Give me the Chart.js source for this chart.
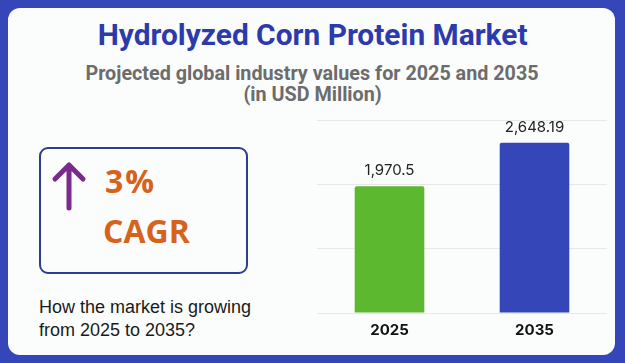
<!DOCTYPE html>
<html>
<head>
<meta charset="utf-8">
<script src="https://cdn.jsdelivr.net/npm/chart.js@4/dist/chart.umd.min.js"></script>
<style>
  body { margin: 0; width: 625px; height: 363px; background: #3446b8; position: relative; overflow: hidden; }
  .panel { position: absolute; left: 8px; top: 8px; width: 607px; height: 347px; background: #fbfdfd; border-radius: 12px; }
  .abs { position: absolute; white-space: nowrap; }
  .titulo { left: 0; width: 625px; top: 21px; text-align: center; font: 700 29px Roboto, sans-serif; line-height: 28px; color: #2d3aab; }
  .titulo span { display: inline-block; transform: scaleX(1.03); }
  .sub span { display: inline-block; transform: scaleX(0.94); }
  .sub { left: 0; width: 625px; top: 63px; text-align: center; font: 700 21px Roboto, sans-serif; line-height: 21px; color: #6c6c6c; }
  .caixa { left: 39px; top: 147px; width: 205px; height: 123px; border: 2px solid #2f3d8f; border-radius: 9px; }
  .num { left: 105px; font: 700 32px "Open Sans", sans-serif; line-height: 32px; color: #d7621c; }
  .pergunta { left: 39px; top: 296px; font: 400 18px "Liberation Sans", Arial, sans-serif; line-height: 23px; color: #1a1a1a; }
  #areaGrafico { position: absolute; left: 317px; top: 100px; width: 290px; height: 247px; }
</style>
</head>
<body>
<div class="panel"></div>
<div class="abs titulo"><span>Hydrolyzed Corn Protein Market</span></div>
<div class="abs sub"><span>Projected global industry values for 2025 and 2035</span><br><span>(in USD Million)</span></div>

<div class="abs caixa"></div>
<svg class="abs" style="left:50px;top:160px" width="40" height="52">
  <path d="M19 48 V5 M5 19 L19 5 L33 19" fill="none" stroke="#7a2a8c" stroke-width="5" stroke-linecap="round" stroke-linejoin="round"/>
</svg>
<div class="abs num" style="top:165px;letter-spacing:2px">3%</div>
<div class="abs num" style="top:215px;left:103px">CAGR</div>
<div class="abs pergunta">How the market is growing<br>from 2025 to 2035?</div>

<div id="areaGrafico"><canvas id="graficoMercado"></canvas></div>

<script>
// dados do gráfico
const anos = ['2025', '2035'];
const valores = [1970.5, 2648.19];
const cores = ['#5cb82f', '#3446b8'];
const ticksY = [0, 1000, 2000, 3000];

// rótulos em cima das barras (sem plugin externo)
const rotulosBarras = {
    id: 'rotulosBarras',
    afterDatasetsDraw(chart) {
        const ctx = chart.ctx;
        const meta = chart.getDatasetMeta(0);
        ctx.save();
        ctx.font = '400 15px Inter, sans-serif';
        ctx.fillStyle = '#222';
        ctx.textAlign = 'center';
        ctx.textBaseline = 'bottom';
        meta.data.forEach((barra, i) => {
            ctx.fillText(valores[i].toLocaleString('en-US'), barra.x, barra.y - 8);
        });
        ctx.restore();
    }
};

new Chart(document.getElementById('graficoMercado'), {
    type: 'bar',
    data: {
        labels: anos,
        datasets: [{
            data: valores,
            backgroundColor: cores,
            borderRadius: 2,
            categoryPercentage: 1,
            barPercentage: 0.48
        }]
    },
    options: {
        responsive: true,
        maintainAspectRatio: false,
        animation: false,
        layout: { padding: { top: 20 } },
        plugins: { legend: { display: false }, tooltip: { enabled: false } },
        scales: {
            x: {
                grid: { display: false, drawTicks: false },
                border: { display: false },
                ticks: { color: '#111', padding: 8, font: { family: 'Inter', size: 15, weight: '700' } }
            },
            y: {
                min: ticksY[0],
                max: ticksY[ticksY.length - 1],
                ticks: { display: false, stepSize: 1000 },
                grid: { color: '#e8e8e8', drawTicks: false },
                border: { display: false }
            }
        }
    },
    plugins: [rotulosBarras]
});
</script>
</body>
</html>
